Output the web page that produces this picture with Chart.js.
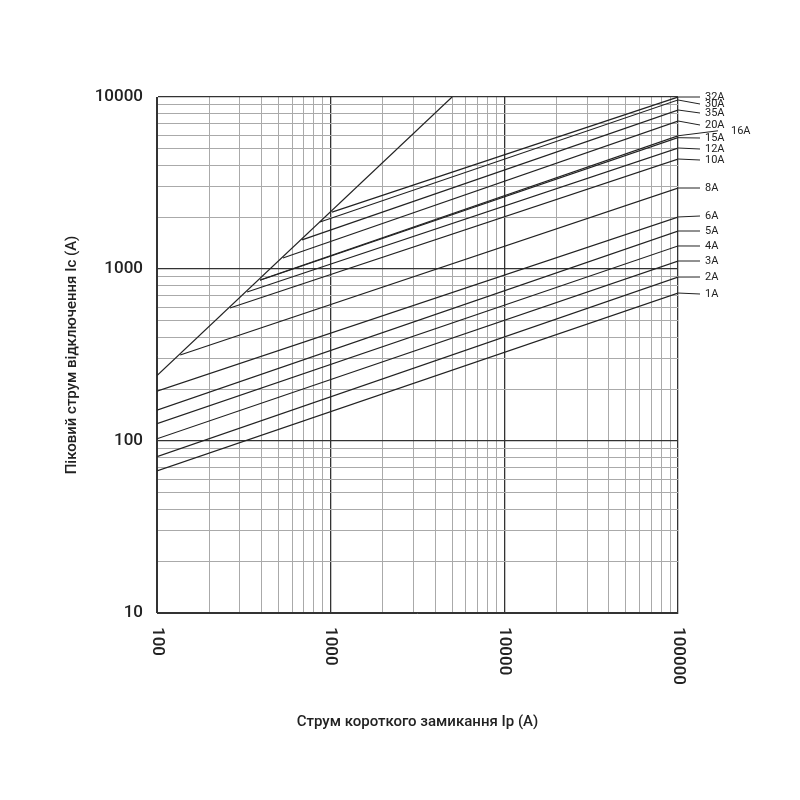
<!DOCTYPE html>
<html><head><meta charset="utf-8">
<script src="https://cdn.jsdelivr.net/npm/chart.js@4"></script>
<style>html,body{margin:0;padding:0;background:#fff}#w{width:800px;height:800px}</style>
</head><body><div id="w"><canvas id="c"></canvas></div>
<script>
const fuseLabels = ['32A','30A','35A','20A','16A','15A','12A','10A','8A','6A','5A','4A','3A','2A','1A'];
const startX = [1018,868,684,531,392,392,330,263,136,100,100,100,100,100,100];
const startY = [2143,1876,1476,1159,863,860,735,593,316,195,151,126,103,81,67];
const endY = [10000,9608,8403,7253,5950,5800,5052,4360,2957,2006,1663,1361,1113,898,725];
const xEnd = 100000;
const diagX = [100,5000];
const diagY = [240,10000];
const yTickLabels = [10,100,1000,10000];
const xTickLabels = [100,1000,10000,100000];
const xTitle = 'Струм короткого замикання Ip (A)';
const yTitle = 'Піковий струм відключення Ic (A)';

const labelY = [97,104,113,125,131,138,149,160,188,216,231,246,261,277,294];
const datasets = [{data: diagX.map((x,i)=>({x, y: diagY[i]})), borderColor:'#222', borderWidth:1.2, pointRadius:0}];
fuseLabels.forEach((l,i)=>datasets.push({label:l, data:[{x:startX[i],y:startY[i]},{x:xEnd,y:endY[i]}], borderColor:'#222', borderWidth:1.2, pointRadius:0}));

function logTicks(min,max){const t=[];for(let d=min;d<max;d*=10)for(let k=1;k<10;k++)t.push({value:d*k});t.push({value:max});return t;}
function gridCol(ctx){const v=ctx.tick&&ctx.tick.value;const l=Math.log10(v);return Math.abs(l-Math.round(l))<1e-6?'#333':'#aaa';}
function gridW(ctx){const v=ctx.tick&&ctx.tick.value;const l=Math.log10(v);return Math.abs(l-Math.round(l))<1e-6?1.3:1;}

const deco = {id:'deco', afterDraw(chart){
  const c=chart.ctx, xs=chart.scales.x, ys=chart.scales.y, a=chart.chartArea;
  c.save(); c.fillStyle='#222'; c.strokeStyle='#222'; c.lineWidth=1;
  c.font='500 17px "Roboto", "Liberation Sans", sans-serif';
  xTickLabels.forEach(v=>{const px=xs.getPixelForValue(v);c.save();c.translate(px,a.bottom+14);c.rotate(Math.PI/2);c.textAlign='left';c.textBaseline='middle';c.fillText(String(v),0,0);c.restore();});
  c.font='11px "Roboto", "Liberation Sans", sans-serif'; c.textBaseline='middle'; c.textAlign='left';
  fuseLabels.forEach((l,i)=>{const py=ys.getPixelForValue(endY[i]);
    if(l==='16A'){c.beginPath();c.moveTo(a.right,py);c.lineTo(a.right+40,py-5);c.stroke();c.fillText(l,a.right+53,labelY[i]);}
    else{c.beginPath();c.moveTo(a.right,py);c.lineTo(a.right+22,labelY[i]);c.stroke();c.fillText(l,a.right+27,labelY[i]);}
  });
  c.font='500 15px "Roboto", "Liberation Sans", sans-serif'; c.textAlign='center';
  c.fillText(xTitle,(a.left+a.right)/2,722);
  c.save();c.translate(72,(a.top+a.bottom)/2);c.rotate(-Math.PI/2);c.fillText(yTitle,0,0);c.restore();
  c.restore();
}};

new Chart(document.getElementById('c'),{type:'line',data:{datasets},
 options:{responsive:true,maintainAspectRatio:false,animation:false,
  layout:{padding:{left:0,right:122,top:97,bottom:0}},
  plugins:{legend:{display:false},tooltip:{enabled:false}},
  scales:{
   x:{type:'logarithmic',min:100,max:100000,afterBuildTicks:s=>{s.ticks=logTicks(100,100000);},
      ticks:{display:false},grid:{color:gridCol,lineWidth:gridW,drawTicks:false},border:{color:'#333'},
      afterFit:s=>{s.height=187;}},
   y:{type:'logarithmic',min:10,max:10000,afterBuildTicks:s=>{s.ticks=logTicks(10,10000);},
      ticks:{autoSkip:false,color:'#222',padding:14,font:{size:17,weight:'500',family:'"Roboto", "Liberation Sans", sans-serif'},
        callback:v=>yTickLabels.includes(v)?String(v):''},
      grid:{color:gridCol,lineWidth:gridW,drawTicks:false},border:{color:'#333'},
      afterFit:s=>{s.width=157;}}
  }},plugins:[deco]});
</script></body></html>
